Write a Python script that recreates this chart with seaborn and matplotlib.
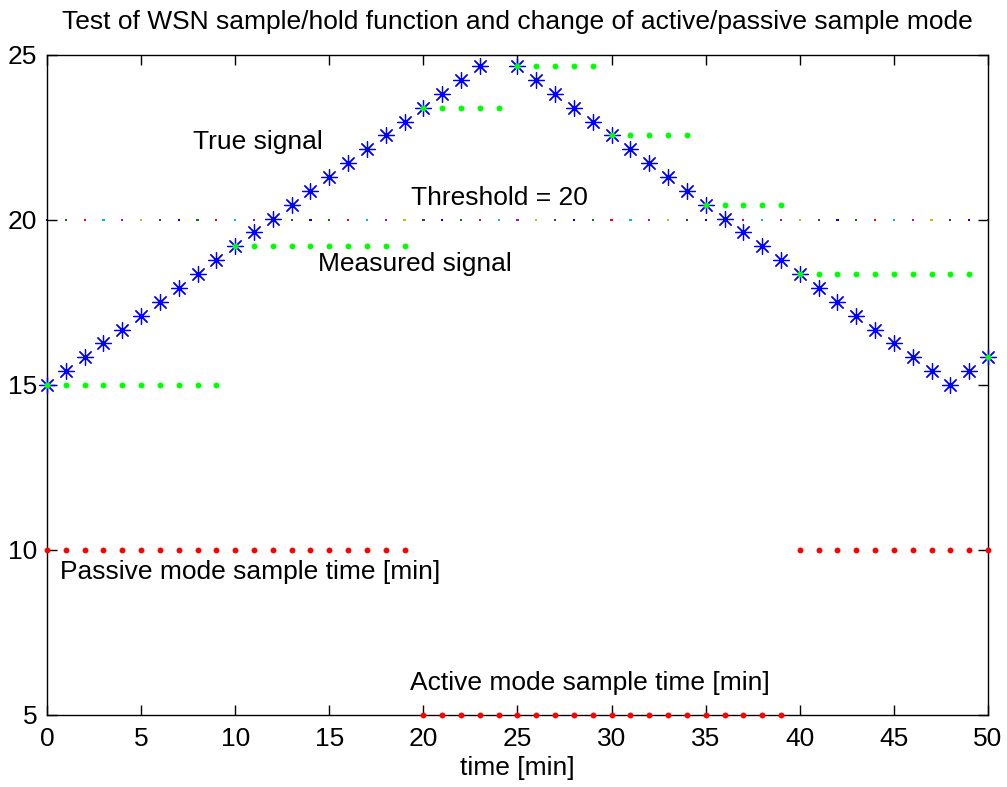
import matplotlib
matplotlib.use("Agg")
import matplotlib.pyplot as plt
import seaborn as sns
import pandas as pd

# ---------------- data ----------------
time_min = list(range(51))
true_signal = [15.00, 15.42, 15.84, 16.26, 16.68, 17.10, 17.52, 17.94, 18.36, 18.78,
               19.20, 19.62, 20.04, 20.46, 20.88, 21.30, 21.72, 22.14, 22.56, 22.98,
               23.40, 23.82, 24.24, 24.66, 25.08, 24.66, 24.24, 23.82, 23.40, 22.98,
               22.56, 22.14, 21.72, 21.30, 20.88, 20.46, 20.04, 19.62, 19.20, 18.78,
               18.36, 17.94, 17.52, 17.10, 16.68, 16.26, 15.84, 15.42, 15.00, 15.42,
               15.84]
measured_signal = [15.00] * 10 + [19.20] * 10 + [23.40] * 5 + [24.66] * 5 + \
                  [22.56] * 5 + [20.46] * 5 + [18.36] * 10 + [15.84]
sample_time = [10] * 20 + [5] * 20 + [10] * 11
threshold = [20] * 51

x_ticks = [0, 5, 10, 15, 20, 25, 30, 35, 40, 45, 50]
y_ticks = [5, 10, 15, 20, 25]
title = "Test of WSN sample/hold function and change of active/passive sample mode"
annotations = [
    ("True signal", 7.76, 22.36),
    ("Threshold = 20", 19.34, 20.67),
    ("Measured signal", 14.4, 18.67),
    ("Passive mode sample time [min]", 0.69, 9.33),
    ("Active mode sample time [min]", 19.29, 5.97),
]

# ---------------- plot ----------------
sns.set_theme(style="white")
plt.rcParams['font.family'] = ['Liberation Sans', 'DejaVu Sans']
plt.rcParams['text.color'] = 'black'
plt.rcParams['axes.labelcolor'] = 'black'
plt.rcParams['xtick.color'] = 'black'
plt.rcParams['ytick.color'] = 'black'

df = pd.DataFrame({"t": time_min, "true": true_signal, "meas": measured_signal,
                   "ts": sample_time, "thr": threshold})
ylim = (5, 25)
xlim = (0, 50)

def inside(col):
    return df[(df[col] >= ylim[0]) & (df[col] <= ylim[1])]

fig = plt.figure(figsize=(10.07, 7.87), dpi=100)
ax = fig.add_axes([0.0467, 0.0915, 0.9344, 0.8387])

matlab_colors = [(0, 0, 1), (0, 0.5, 0), (1, 0, 0), (0, 0.75, 0.75),
                 (0.75, 0, 0.75), (0.75, 0.75, 0), (0.25, 0.25, 0.25)]
thr_colors = [matlab_colors[i % 7] for i in range(len(df))]
ax.scatter(df["t"], df["thr"], s=2.5, c=thr_colors, marker='s', linewidths=0,
           clip_on=False, zorder=2)

d = inside("true")
sns.scatterplot(data=d, x="t", y="true", ax=ax, marker=(8, 2, 0), color=(0, 0, 1),
                s=130, linewidth=0.9, clip_on=False, zorder=3, legend=False)
d = inside("meas")
sns.scatterplot(data=d, x="t", y="meas", ax=ax, marker='o', color=(0, 1, 0),
                s=18, linewidth=0, clip_on=False, zorder=4, legend=False)
d = inside("ts")
sns.scatterplot(data=d, x="t", y="ts", ax=ax, marker='o', color=(1, 0, 0),
                s=18, linewidth=0, clip_on=False, zorder=4, legend=False)

ax.set_xlim(*xlim)
ax.set_ylim(*ylim)
ax.set_xticks(x_ticks)
ax.set_yticks(y_ticks)
ax.tick_params(direction='in', length=7, width=1, colors='black', labelsize=19,
               top=True, right=True, bottom=True, left=True)
ax.tick_params(axis='x', pad=9)
ax.tick_params(axis='y', pad=7)
for sp in ax.spines.values():
    sp.set_visible(True)
    sp.set_color('black')
    sp.set_linewidth(1.0)
ax.set_xlabel("time [min]", fontsize=19, labelpad=3, color='black')
ax.set_ylabel("")
ax.set_title(title, fontsize=19, pad=19, color='black')
for txt, x, y in annotations:
    ax.text(x, y, txt, fontsize=19, ha='left', va='center', color='black')

fig.savefig("out.png", dpi=100)
